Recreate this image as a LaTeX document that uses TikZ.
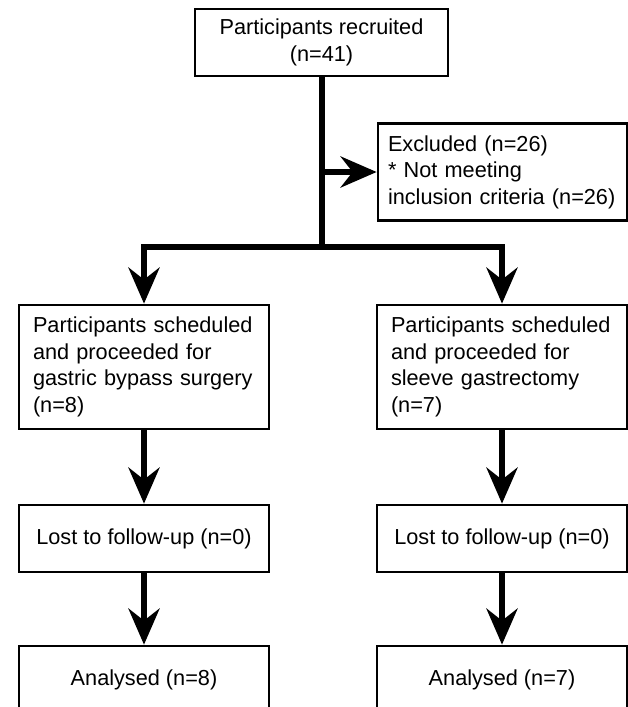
\documentclass[tikz,border=0pt]{standalone}
\usepackage{fontspec}
\setmainfont{Liberation Sans}
\usetikzlibrary{arrows.meta}
\begin{document}
\begin{tikzpicture}[x=1pt,y=-1pt,
  box/.style={draw, line width=2.7pt, inner sep=0pt, font=\fontsize{21.7}{26.5}\selectfont},
  cbox/.style={box, align=center, minimum width=250pt, minimum height=67pt},
  lbox/.style={box, align=left, text width=222pt, inner xsep=14pt, minimum height=124pt},
  conn/.style={line width=6pt},
  arr/.style={conn, -{Stealth[length=36pt, width=31pt, inset=12pt]}}]
\useasboundingbox (0,0) rectangle (628,707);

\node[cbox, minimum width=253pt] (top) at (321.5,42.5) {Participants recruited\\(n=41)};
\node[box, align=left, text width=229pt, inner xsep=10pt, minimum height=97pt] (excl) at (502.5,172)
  {Excluded (n=26)\\{}* Not meeting\\inclusion criteria (n=26)};
\node[lbox] (L1) at (144,367) {Participants scheduled\\and proceeded for\\gastric bypass surgery\\(n=8)};
\node[lbox] (R1) at (502,367) {Participants scheduled\\and proceeded for\\sleeve gastrectomy\\(n=7)};
\node[cbox] (L2) at (144,538.5) {Lost to follow-up (n=0)};
\node[cbox] (R2) at (502,538.5) {Lost to follow-up (n=0)};
\node[cbox] (L3) at (144,679.5) {Analysed (n=8)};
\node[cbox] (R3) at (502,679.5) {Analysed (n=7)};

\coordinate (j) at (321.5,247);
\coordinate (e) at (321.5,172);

\draw[conn] (top.south) -- (j);
\draw[arr] (e) -- (excl.west);
\draw[arr] (j) -| (L1.north);
\draw[arr] (j) -| (R1.north);
\draw[arr] (L1.south) -- (L2.north);
\draw[arr] (R1.south) -- (R2.north);
\draw[arr] (L2.south) -- (L3.north);
\draw[arr] (R2.south) -- (R3.north);
\end{tikzpicture}
\end{document}
